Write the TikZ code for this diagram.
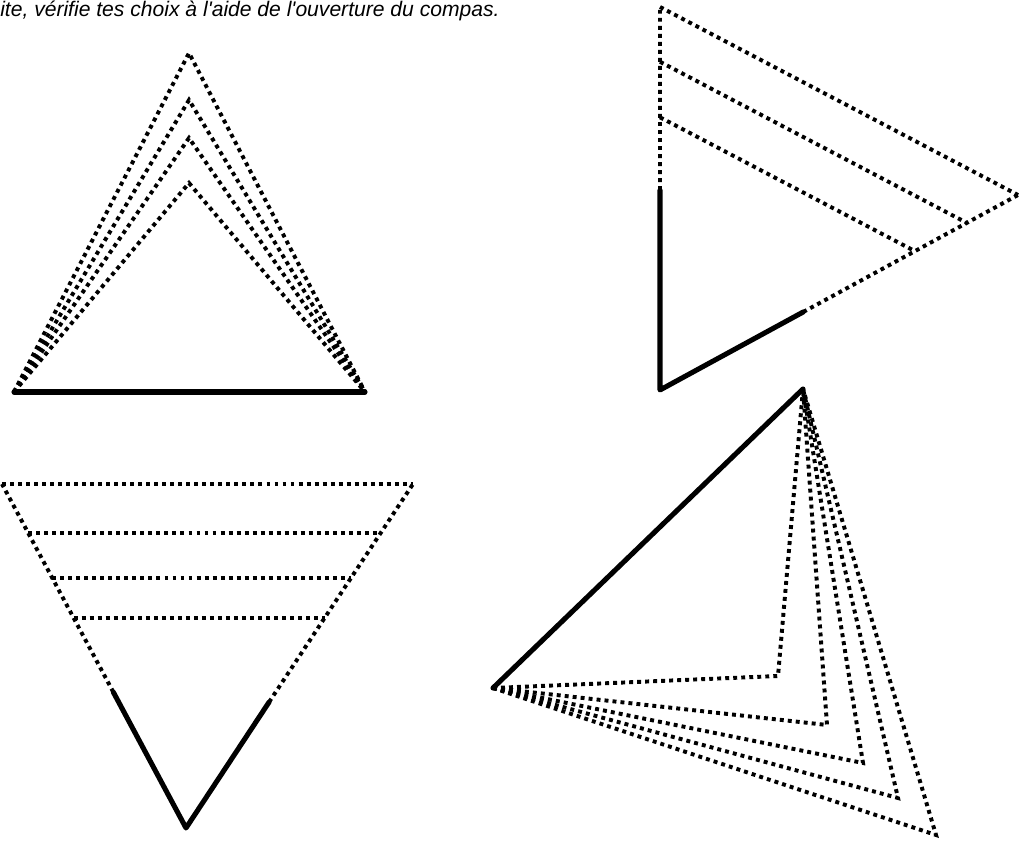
\documentclass[tikz,border=0pt]{standalone}
\usepackage{fontspec}
\setmainfont{Liberation Sans}
\usetikzlibrary{calc}

\begin{document}
\begin{tikzpicture}[x=0.025cm, y=-0.025cm,
                    plein/.style={line width=3.6pt, line cap=round, line join=round},
                    pointille/.style={line width=2.8pt, dash pattern=on 2.8pt off 2.9pt}]
    \useasboundingbox (0,0) rectangle (1020,845);
    \node[anchor=base west, inner sep=0pt, font=\itshape\fontsize{15}{18}\selectfont] (consigne) at (0,17)
        {ite, vérifie tes choix à l\textquotesingle aide de l\textquotesingle ouverture du compas.};
    % figure 1 : base fixe, sommets sur la mediatrice
    \coordinate (a1) at (14,392);
    \coordinate (a2) at (365,392);
    \foreach \y [count=\i] in {53,100,138,183} {
        \coordinate (s\i) at (189,\y);
        \draw[pointille] (a1) -- (s\i) -- (a2);
    }
    \draw[plein] (a1) -- (a2);
    % figure 2 : angle fixe
    \coordinate (b) at (660,390);
    \coordinate (bA) at (660,7);
    \coordinate (bC) at (1018,195);
    \coordinate (b1) at ($(b)!0.522!(bA)$);
    \coordinate (b2) at ($(b)!0.40!(bC)$);
    \draw[pointille] (b1) -- (bA);
    \draw[pointille] (b2) -- (bC);
    \foreach \t in {1,0.857,0.712}
        \draw[pointille] ($(b)!\t!(bA)$) -- ($(b)!\t!(bC)$);
    \draw[plein] (b1) -- (b) -- (b2);
    % figure 3 : angle fixe, vers le bas
    \coordinate (v) at (186,828);
    \coordinate (vL) at (2,484);
    \coordinate (vR) at (413,484);
    \coordinate (v1) at ($(v)!0.395!(vL)$);
    \coordinate (v2) at ($(v)!0.366!(vR)$);
    \draw[pointille] (v1) -- (vL);
    \draw[pointille] (v2) -- (vR);
    \foreach \t in {1,0.8576,0.7267,0.6105}
        \draw[pointille] ($(v)!\t!(vL)$) -- ($(v)!\t!(vR)$);
    \draw[plein] (v1) -- (v) -- (v2);
    % figure 4 : cote fixe
    \coordinate (c1) at (493,688);
    \coordinate (c2) at (803,389);
    \foreach \x/\y [count=\i] in {778/676,827/725,863/763,898/798,936/835} {
        \coordinate (t\i) at (\x,\y);
        \draw[pointille] (c1) -- (t\i) -- (c2);
    }
    \draw[plein] (c1) -- (c2);
\end{tikzpicture}
\end{document}
